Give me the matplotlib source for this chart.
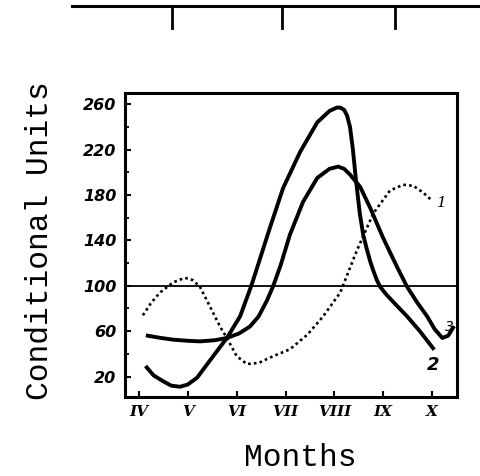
import matplotlib
matplotlib.use("Agg")
import matplotlib.pyplot as plt
from matplotlib.lines import Line2D

# values (x = month number, y = conditional units)
months = [4, 5, 6, 7, 8, 9, 10]
month_labels = ["IV", "V", "VI", "VII", "VIII", "IX", "X"]
y_ticks = [20, 60, 100, 140, 180, 220, 260]

curve1_x = [4.08, 4.25, 4.43, 4.70, 4.94, 5.10, 5.25, 5.45, 5.66, 5.80, 6.00,
            6.21, 6.45, 6.75, 7.09, 7.45, 7.77, 8.12, 8.47, 8.80, 9.14,
            9.41, 9.62, 9.82, 10.0]
curve1_y = [74, 85, 94, 103, 107, 105, 99, 82, 64, 54, 38,
            31, 32, 38, 44, 57, 73, 94, 132, 164, 184,
            189, 188, 182, 175]

curve2_x = [4.16, 4.30, 4.49, 4.66, 4.84, 5.00, 5.19, 5.52, 5.80, 6.07, 6.30,
            6.42, 6.68, 6.95, 7.30, 7.65, 7.90, 8.05, 8.12, 8.20, 8.26,
            8.32, 8.38, 8.44, 8.52, 8.59, 8.66, 8.73, 8.80, 8.87, 8.94,
            9.05, 9.20, 9.49, 9.75, 10.02]
curve2_y = [28, 21, 16, 12, 11, 13, 19, 38, 54, 73, 100,
            116, 151, 186, 218, 244, 254, 257, 257, 255, 250,
            240, 220, 194, 164, 145, 133, 122, 113, 105, 99,
            93, 86, 73, 60, 45]

curve3_x = [4.18, 4.45, 4.70, 5.00, 5.25, 5.55, 5.80, 6.05, 6.27, 6.45, 6.62,
            6.75, 6.90, 7.09, 7.36, 7.65, 7.90, 8.08, 8.20, 8.32, 8.53, 8.73,
            9.00, 9.29, 9.49, 9.70, 9.90, 10.05, 10.21, 10.33, 10.43]
curve3_y = [56, 54, 52.5, 51.5, 51, 52, 54, 58, 64, 73, 87,
            100, 118, 145, 174, 195, 203, 205, 203, 198, 187, 169,
            142, 116, 99, 85, 73, 62, 54, 56, 63]

fig = plt.figure(figsize=(4.8, 4.76), dpi=100)
ax = fig.add_axes([0.260, 0.166, 0.692, 0.639])

ax.plot(curve1_x, curve1_y, color="black", lw=1.9, ls=(0, (1, 1.2)),
        solid_capstyle="round")
ax.plot(curve2_x, curve2_y, color="black", lw=2.8, solid_joinstyle="round")
ax.plot(curve3_x, curve3_y, color="black", lw=2.8, solid_joinstyle="round")

# reference level
ax.axhline(100, color="black", lw=1.3)

# curve numbers
ax.text(10.21, 173, "1", fontsize=11, style="italic", ha="center", va="center",
        family="DejaVu Serif")
ax.text(10.03, 30, "2", fontsize=13, weight="bold", style="italic",
        ha="center", va="center")
ax.text(10.36, 64, "3", fontsize=10, style="italic", ha="center", va="center")

ax.set_xlim(3.71, 10.51)
ax.set_ylim(2, 270)

ax.set_xticks(months)
ax.set_xticklabels(month_labels, fontsize=11, weight="bold", style="italic",
                   family="DejaVu Serif")
ax.set_yticks(y_ticks)
ax.set_yticklabels([str(v) for v in y_ticks], fontsize=11.5, weight="bold",
                   style="italic")
ax.set_yticks([40, 80, 120, 160, 200, 240], minor=True)
ax.tick_params(axis="both", direction="in", length=4, width=1.5, pad=6)
ax.tick_params(axis="y", which="minor", direction="in", length=3, width=1.3)

for s in ax.spines.values():
    s.set_linewidth(2.2)

ax.text(-0.256, 0.513, "Conditional Units", transform=ax.transAxes,
        rotation=90, ha="center", va="center", fontsize=22.5,
        family="Liberation Mono")
ax.text(0.527, -0.20, "Months", transform=ax.transAxes, ha="center",
        va="center", fontsize=22.5, family="Liberation Mono")

# edge of the previous figure visible at the top of the scan
fig.add_artist(Line2D([0.15, 1.0], [0.987, 0.987], color="black", lw=2.2))
for fx in [0.358, 0.588, 0.823]:
    fig.add_artist(Line2D([fx, fx], [0.987, 0.942], color="black", lw=2))

fig.savefig("out.png", dpi=100)
